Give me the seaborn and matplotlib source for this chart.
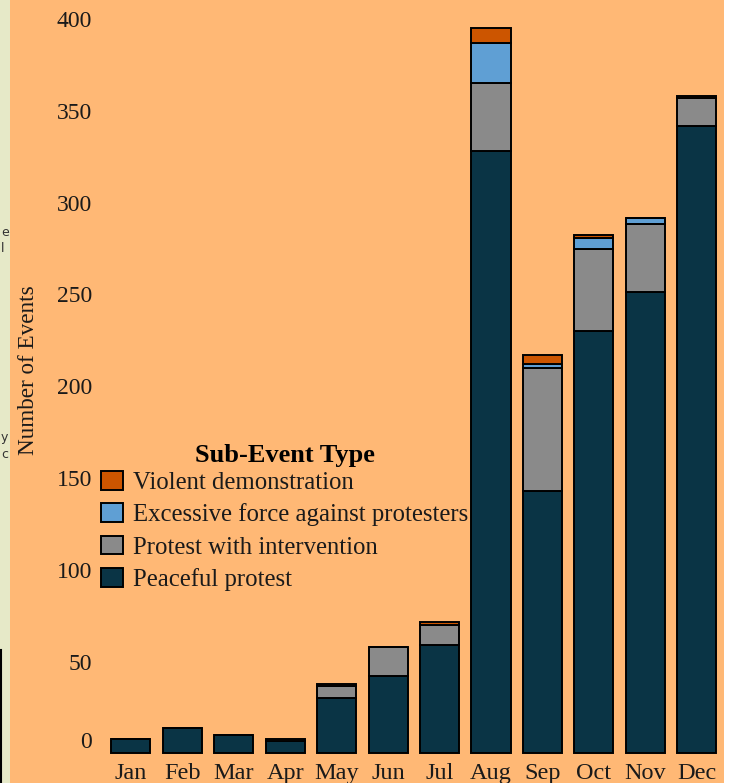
import matplotlib
matplotlib.use("Agg")
import matplotlib.pyplot as plt
import matplotlib.transforms as mtrans
from matplotlib.patches import Patch, Rectangle
import pandas as pd
import seaborn as sns

months = ["Jan","Feb","Mar","Apr","May","Jun","Jul","Aug","Sep","Oct","Nov","Dec"]
peaceful = [8, 14, 10, 7, 30, 42, 59, 328, 143, 230, 251.5, 342]
intervention = [0, 0, 0, 0, 7, 16, 11, 37, 67, 45, 37, 15]
excessive = [0, 0, 0, 0, 0, 0, 0, 22, 2, 6, 3, 0]
violent = [0, 0, 0, 1, 1, 0, 1.5, 8, 5, 1.5, 0, 1]
types = ["Violent demonstration","Excessive force against protesters","Protest with intervention","Peaceful protest"]
colors = ["#CC5500","#5F9FD4","#8A8A8A","#0A3445"]
yticks = [0,50,100,150,200,250,300,350,400]

series = dict(zip(types,[violent,excessive,intervention,peaceful]))
df = pd.DataFrame([{"month":m,"type":t,"count":v} for t,vals in series.items() for m,v in zip(months,vals)])
df["month"] = pd.Categorical(df["month"],categories=months)

FONT = ["Liberation Serif","DejaVu Serif"]
plt.rcParams["font.family"] = FONT
BG = "#FFB875"
TXT = "#1a1a1a"
fig = plt.figure(figsize=(7.31,7.83),dpi=100,facecolor="white")
# left strip of the page behind the chart
strip = fig.add_axes([0,0,10/731,1]); strip.set_axis_off()
strip.set_xlim(0,10); strip.set_ylim(783,0)
strip.add_patch(Rectangle((0,0),10,783,color="#E6E9C8"))
strip.plot([0.5,0.5],[650,783],color="black",lw=1.5)
for s,yy in [("e",233),("l",249),("y",437),("c",455)]:
    fig.text(1/731,1-yy/783,s,fontsize=9,family="DejaVu Sans",color="#333333",va="center")
ax = fig.add_axes([10/731,0,714/731,1],facecolor=BG)
sns.histplot(data=df,x="month",weights="count",hue="type",hue_order=types,palette=dict(zip(types,colors)),
             multiple="stack",discrete=True,shrink=0.76,alpha=1,edgecolor="black",linewidth=1.4,legend=False,ax=ax)
ax.set_xlim(-2.35,11.53)
ax.set_ylim(-16.07,410.4)
for s in ax.spines.values(): s.set_visible(False)
ax.set_yticks(yticks)
ax.set_xticks(range(12)); ax.set_xticklabels(months,fontsize=17.5,color=TXT)
ax.tick_params(length=0)
ax.tick_params(axis="x",pad=-14.5)
ax.tick_params(axis="y",pad=-59,labelsize=17,labelcolor=TXT)
# the zero label sits above the baseline in the reference
off = mtrans.ScaledTranslation(0,13/100,fig.dpi_scale_trans)
zero = ax.get_yticklabels()[0]
zero.set_transform(zero.get_transform()+off)
ax.set_xlabel(""); ax.set_ylabel("")
fig.text(29/731,1-370/783,"Number of Events",rotation=90,fontsize=16.7,color=TXT,ha="center",va="center")
handles=[Patch(facecolor=c,edgecolor="black",linewidth=1.4) for c in colors]
leg=ax.legend(handles,types,title="Sub-Event Type",frameon=False,fontsize=17.8,
    title_fontproperties={"weight":"bold","size":19},labelcolor=TXT,
    loc="upper left",bbox_to_anchor=((101-10)/714,1-444/783),handlelength=0.89,handleheight=0.8,
    handletextpad=0.42,labelspacing=0.37,borderpad=0,borderaxespad=0)
leg._legend_box.sep = 3
fig.savefig("out.png",dpi=100,facecolor="white")
